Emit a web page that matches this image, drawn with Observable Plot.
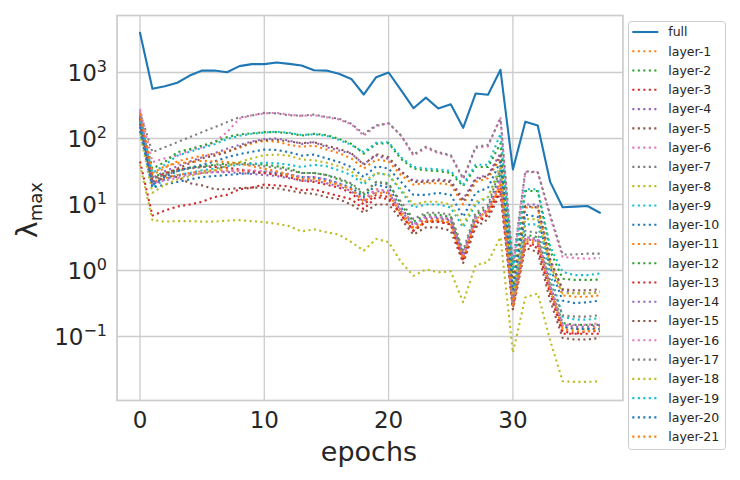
<!DOCTYPE html>
<html><head><meta charset="utf-8">
<script src="https://cdn.jsdelivr.net/npm/d3@7"></script>
<script src="https://cdn.jsdelivr.net/npm/@observablehq/plot@0.6"></script>
<style>body{margin:0;background:#fff;}</style>
</head><body><div id="chart"></div>
<script>
const epochs = [0,1,2,3,4,5,6,7,8,9,10,11,12,13,14,15,16,17,18,19,20,21,22,23,24,25,26,27,28,29,30,31,32,33,34,35,36,37];
const seriesNames = ["full","layer-1","layer-2","layer-3","layer-4","layer-5","layer-6","layer-7","layer-8","layer-9","layer-10","layer-11","layer-12","layer-13","layer-14","layer-15","layer-16","layer-17","layer-18","layer-19","layer-20","layer-21"];
const colors = ["#1f77b4","#ff7f0e","#2ca02c","#d62728","#9467bd","#8c564b","#e377c2","#7f7f7f","#bcbd22","#17becf","#1f77b4","#ff7f0e","#2ca02c","#d62728","#9467bd","#8c564b","#e377c2","#7f7f7f","#bcbd22","#17becf","#1f77b4","#ff7f0e"];

const full    = [4000,566,620,700,900,1070,1070,1010,1250,1340,1340,1420,1350,1280,1080,1070,955,800,464,850,1000,540,288,417,285,330,145,480,460,1100,34,180,157,22,9.1,9.3,9.5,7.5];
const layer1  = [230,22,25,28,30,32,33,33,32,31,30,29,27,25,25,23,20,17,12,17,16,8,4.5,6,6,5.5,1.6,6,8,22,0.3,3,2.8,0.55,0.14,0.13,0.13,0.14];
const layer2  = [210,26,30,33,36,38,40,42,43,42,40,38,35,30,30,28,24,20,14,22,21,10,5.5,7,7,6.5,1.8,7,9,30,0.32,3.5,3.2,0.6,0.16,0.15,0.15,0.15];
const layer3  = [45,6.8,8.1,9.3,10,11,13,14,17,18,20,19.5,18.7,16.5,17,15,13.5,12,8.5,13,12,7,4,5.5,5.5,5,1.4,5.5,7,18,0.26,2.5,2.2,0.45,0.11,0.11,0.11,0.11];
const layer4  = [220,25,32,38,45,52,60,70,80,90,98,100,93,83,88,74,66,59,41,55,49,31,23,23,24,23,12,25,28,60,0.6,10,10,1.5,0.5,0.45,0.45,0.48];
const layer5  = [170,20,27,26,21,19.5,17,17,17.8,18,18,17.6,16.3,15,14.5,13,12,10,7.5,10,10,6,3.5,4.5,4.5,4,1.3,4.5,6,15,0.26,2.2,1.9,0.35,0.095,0.09,0.09,0.095];
const layer6  = [280,44,50,55,66,74,88,125,200,225,240,245,230,220,225,210,195,165,110,155,170,110,55,72,60,55,24,72,76,210,1.1,31,31,6.5,1.6,1.55,1.5,1.55];
const layer7  = [250,62,74,88,105,125,148,177,210,223,245,240,225,222,230,212,200,167,118,158,170,112,57,75,62,56,25,75,80,200,1.3,32,31,7,1.75,1.75,1.8,1.8];
const layer8  = [40,5.8,5.5,5.6,5.6,5.5,5.5,5.7,5.8,5.6,5.4,5.1,4.7,3.9,4.2,3.8,3.5,2.7,2.0,3.0,2.7,1.35,0.83,1.04,0.94,0.97,0.33,1.2,1.35,3.2,0.057,0.39,0.45,0.087,0.021,0.0205,0.0205,0.021];
const layer9  = [160,18,24,28,30,33,35,38,40,41,43,42,40,37,40,38,33,28,20,30,28,16,9,10,10,9,4.5,10,13,35,0.4,5,5,0.9,0.2,0.18,0.18,0.19];
const layer10 = [130,18,20,22,24,26,27,28,29,30,31,30,28,26,26,24,21,18,13,20,18,9,5,6.5,6.5,6,1.7,6.5,8.5,25,0.3,3.2,3,0.5,0.14,0.13,0.13,0.13];
const layer11 = [190,28,36,45,50,55,58,65,72,85,92,90,80,75,78,68,60,50,35,48,45,28,20,21,21,20,10,22,25,50,0.55,9,9,1.3,0.42,0.4,0.4,0.42];
const layer12 = [200,35,44,62,69,78,88,105,115,120,125,125,120,111,118,113,99,83,59,83,85,49,35,33,32,30,19,37,37,84,0.9,16,16,2,0.75,0.72,0.72,0.73];
const layer13 = [200,24,30,34,36,37,37,36,34,32,30,28,26,23,22,20,18,15,10,14,13,7,4,5.5,5.5,5,1.4,5,7,16,0.27,2.6,2.4,0.45,0.12,0.11,0.12,0.12];
const layer14 = [190,20,24,27,29,30,31,31,30,29,28,27,25,23,23,21,19,16,11,16,15,8,4.8,6.2,6.2,5.8,1.6,6.2,8,20,0.3,3,2.8,0.55,0.15,0.14,0.14,0.15];
const layer15 = [170,22,28,35,42,50,55,62,75,88,95,96,90,85,88,78,70,60,40,58,52,32,22,22,23,22,11,24,27,55,0.6,9.5,9,1.4,0.52,0.5,0.5,0.52];
const layer16 = [260,21,23,25,28,30,31,32,33,33,32,31,29,26,26,24,21,17,12,17,16,8.5,5,6.5,6.5,6,1.7,6.5,8.5,24,0.32,3.2,3,0.55,0.15,0.15,0.15,0.16];
const layer17 = [220,25,28,32,35,37,39,40,41,40,38,36,33,30,30,28,25,21,15,22,20,11,6,7.5,7.5,7,2,7.5,10,35,0.35,4,3.7,0.7,0.21,0.2,0.2,0.21];
const layer18 = [120,15,20,24,27,30,33,38,44,50,56,57,55,48,47,43,38,32,22,30,28,17,10,11,11,10,5,11,13,40,0.45,6,6,1.2,0.45,0.45,0.45,0.46];
const layer19 = [180,30,40,55,63,72,82,98,110,118,123,127,122,113,116,110,96,80,62,86,88,52,37,35,34,32,20,40,40,118,1.0,17,17,2.3,0.95,0.85,0.85,0.9];
const layer20 = [150,20,26,32,36,40,45,52,58,63,68,67,62,55,57,50,44,37,26,38,35,22,14,14,15,14,6.5,15,18,45,0.5,7,6.5,1.1,0.35,0.32,0.33,0.35];
const layer21 = [240,30,38,42,44,46,45,44,42,38,35,32,28,24,24,22,20,17,11,15,15,7,4.2,5.5,5.8,5.2,1.5,5.5,7.5,20,0.28,2.8,2.6,0.5,0.13,0.12,0.12,0.13];

const seriesValues = [full,layer1,layer2,layer3,layer4,layer5,layer6,layer7,layer8,layer9,layer10,layer11,layer12,layer13,layer14,layer15,layer16,layer17,layer18,layer19,layer20,layer21];

const xTicks = [0,10,20,30];
const yTicks = [0.1,1,10,100,1000];
const yTickExp = ["\u22121","0","1","2","3"];

const rows = [];
seriesNames.forEach((name,i) => seriesValues[i].forEach((v,j) => rows.push({series:name, epoch:epochs[j], value:v})));

const plot = Plot.plot({
  width:740, height:480,
  marginLeft:116.5, marginRight:117.6, marginTop:15, marginBottom:80,
  style:{fontFamily:"DejaVu Sans", fontSize:"23px", color:"#262626", background:"#fff"},
  x:{domain:[-1.85,38.85], ticks:xTicks, tickSize:0, tickPadding:11, label:null},
  y:{type:"log", domain:[Math.pow(10,-1.97), Math.pow(10,3.864)], axis:null},
  color:{domain:seriesNames, range:colors},
  marks:[
    Plot.gridX(xTicks, {stroke:"#cccccc", strokeOpacity:1, strokeWidth:1.3}),
    Plot.gridY(yTicks, {stroke:"#cccccc", strokeOpacity:1, strokeWidth:1.3}),
    Plot.frame({stroke:"#cccccc", strokeWidth:1.7}),
    Plot.line(rows.filter(d => d.series === "full"), {x:"epoch", y:"value", stroke:"series", strokeWidth:2.1}),
    Plot.line(rows.filter(d => d.series !== "full"), {x:"epoch", y:"value", z:"series", stroke:"series", strokeWidth:2.1, strokeDasharray:"2.1,3.4", strokeLinecap:"butt"})
  ]
});
document.getElementById("chart").appendChild(plot);

const svg = d3.select(plot);
const yScale = plot.scale("y");
const g = svg.append("g").attr("fill","#262626").attr("font-family","DejaVu Sans");
yTicks.forEach((t,i) => {
  const ty = yScale.apply(t);
  const txt = g.append("text").attr("x",107).attr("y",ty+9.4).attr("text-anchor","end").attr("font-size",23);
  txt.append("tspan").text("10");
  txt.append("tspan").attr("dy",-9.4).attr("font-size",16).text(yTickExp[i]);
});
g.append("text").attr("x",369).attr("y",461).attr("text-anchor","middle").attr("font-size",27).text("epochs");
const yl = g.append("text").attr("transform","translate(37,210) rotate(-90)").attr("text-anchor","middle");
yl.append("tspan").attr("font-size",28).text("\u03bb");
yl.append("tspan").attr("font-size",18).attr("dy",5).text("max");

const lg = svg.append("g").attr("font-family","DejaVu Sans");
lg.append("rect").attr("x",628.5).attr("y",21.5).attr("width",97).attr("height",428).attr("rx",3)
  .attr("fill","white").attr("fill-opacity",0.8).attr("stroke","#cccccc").attr("stroke-width",1);
seriesNames.forEach((n,i) => {
  const yy = 32 + i*19.27;
  const ln = lg.append("line").attr("x1",632.3).attr("x2",658.3).attr("y1",yy).attr("y2",yy)
    .attr("stroke",colors[i]).attr("stroke-width",2.1);
  if (i > 0) ln.attr("stroke-dasharray","2.1,3.4");
  lg.append("text").attr("x",668.3).attr("y",yy).attr("dy","0.35em").attr("text-anchor","start")
    .attr("font-size",12.5).attr("fill","#262626").text(n);
});
</script>
</body></html>
